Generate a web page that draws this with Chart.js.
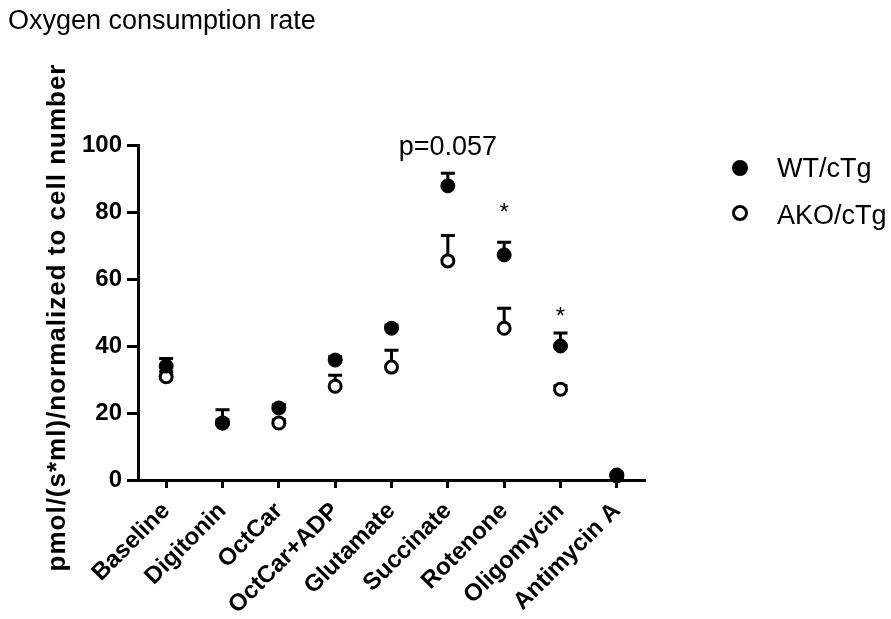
<!DOCTYPE html>
<html>
<head>
<meta charset="utf-8">
<title>Oxygen consumption rate</title>
<script src="https://cdn.jsdelivr.net/npm/chart.js@4"></script>
<style>
    html, body { margin: 0; padding: 0; background: #fff; }
    canvas { display: block; }
</style>
</head>
<body>
<canvas id="ocrChart" width="891" height="619"></canvas>
<script>
// ---- data ----
const categories = ['Baseline', 'Digitonin', 'OctCar', 'OctCar+ADP', 'Glutamate', 'Succinate', 'Rotenone', 'Oligomycin', 'Antimycin A'];
const wtMean  = [34, 17, 21.5, 35.8, 45.3, 87.8, 67.2, 40, 1.5];
const wtErr   = [2.3, 4, 1, 1, 1, 3.8, 3.8, 3.9, 0.5];
const akoMean = [30.8, 17, 17, 28, 33.7, 65.4, 45.3, 27.1, 1.2];
const akoErr  = [1.5, 1, 1, 3.3, 5, 7.6, 6, 1, 0.5];
const yTicks  = [0, 20, 40, 60, 80, 100];

// significance marks: [category, value where text baseline sits, text]
const marks = [
    ['Succinate', 97, 'p=0.057'],
    ['Rotenone', 77.6, '*'],
    ['Oligomycin', 46.6, '*'],
];

const FONT = "'Liberation Sans', Arial, sans-serif";
Chart.defaults.font.family = FONT;
Chart.defaults.color = '#000';

// upward-only error bars, drawn under the points
const errorBars = {
    id: 'errorBars',
    beforeDatasetsDraw(chart) {
        const { ctx, scales: { y } } = chart;
        ctx.save();
        ctx.strokeStyle = '#000';
        ctx.lineWidth = 3;
        chart.data.datasets.forEach((ds, di) => {
            const meta = chart.getDatasetMeta(di);
            meta.data.forEach((pt, i) => {
                const top = y.getPixelForValue(ds.data[i] + ds.errors[i]);
                ctx.beginPath();
                ctx.moveTo(pt.x, pt.y);
                ctx.lineTo(pt.x, top);
                ctx.moveTo(pt.x - 7, top);
                ctx.lineTo(pt.x + 7, top);
                ctx.stroke();
            });
        });
        ctx.restore();
    }
};

// title, y-axis title, legend and significance text
const decorations = {
    id: 'decorations',
    afterDraw(chart) {
        const { ctx, chartArea, scales: { x, y } } = chart;
        ctx.save();
        ctx.fillStyle = '#000';
        ctx.textBaseline = 'alphabetic';

        ctx.font = `27px ${FONT}`;
        ctx.textAlign = 'left';
        ctx.fillText('Oxygen consumption rate', 8, 29);

        // y-axis title
        ctx.save();
        ctx.translate(58, (chartArea.top + chartArea.bottom) / 2 + 5);
        ctx.rotate(-Math.PI / 2);
        ctx.font = `bold 26px ${FONT}`;
        ctx.textAlign = 'center';
        ctx.textBaseline = 'middle';
        ctx.letterSpacing = '1px';
        ctx.fillText('pmol/(s*ml)/normalized to cell number', 0, 0);
        ctx.restore();

        // legend
        ctx.font = `27px ${FONT}`;
        ctx.textAlign = 'left';
        ctx.beginPath();
        ctx.arc(740, 168, 8, 0, Math.PI * 2);
        ctx.fill();
        ctx.fillText('WT/cTg', 777, 177);
        ctx.beginPath();
        ctx.arc(740, 213, 6.5, 0, Math.PI * 2);
        ctx.lineWidth = 3;
        ctx.strokeStyle = '#000';
        ctx.stroke();
        ctx.fillText('AKO/cTg', 777, 224);

        // significance
        marks.forEach(([cat, v, txt]) => {
            ctx.font = txt === '*' ? `24px ${FONT}` : `27px ${FONT}`;
            ctx.textAlign = 'center';
            ctx.fillText(txt, x.getPixelForValue(categories.indexOf(cat)), y.getPixelForValue(v));
        });
        ctx.restore();
    }
};

new Chart(document.getElementById('ocrChart'), {
    type: 'line',
    data: {
        labels: categories,
        datasets: [
            {
                label: 'WT/cTg', data: wtMean, errors: wtErr, showLine: false, clip: false,
                pointStyle: 'circle', pointRadius: 7, pointBorderWidth: 1,
                pointBackgroundColor: '#000', pointBorderColor: '#000',
            },
            {
                label: 'AKO/cTg', data: akoMean, errors: akoErr, showLine: false, clip: false,
                pointStyle: 'circle', pointRadius: 6, pointBorderWidth: 3,
                pointBackgroundColor: '#fff', pointBorderColor: '#000',
            },
        ]
    },
    options: {
        responsive: false,
        animation: false,
        devicePixelRatio: 1,
        layout: { padding: { top: 145, right: 246, bottom: 0, left: 0 } },
        plugins: { legend: { display: false }, tooltip: { enabled: false } },
        scales: {
            x: {
                offset: true,
                afterFit: s => { s.height = 139; },
                grid: { drawOnChartArea: false, offset: false, tickLength: 8, tickWidth: 3, tickColor: '#000' },
                border: { color: '#000', width: 3 },
                ticks: { minRotation: 45, maxRotation: 45, autoSkip: false, padding: 9, font: { size: 24, weight: 'bold' } }
            },
            y: {
                min: 0, max: 100,
                afterFit: s => { s.width = 138; },
                afterBuildTicks: s => { s.ticks = yTicks.map(v => ({ value: v })); },
                grid: { drawOnChartArea: false, tickLength: 11, tickWidth: 3, tickColor: '#000' },
                border: { color: '#000', width: 3 },
                ticks: { padding: 5, font: { size: 24, weight: 'bold' } }
            }
        }
    },
    plugins: [errorBars, decorations]
});
</script>
</body>
</html>
